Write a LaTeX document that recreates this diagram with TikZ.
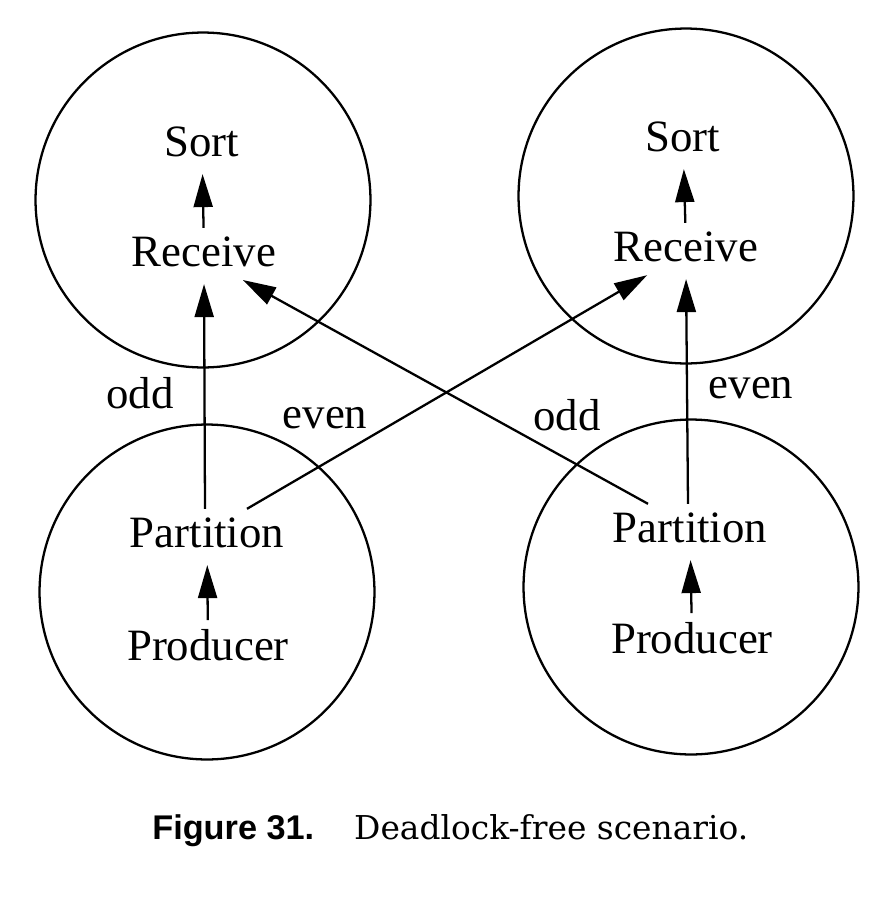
\documentclass[tikz,border=0pt]{standalone}
\usepackage{fontspec}
\setmainfont{Liberation Serif}
\newfontfamily\capsans{Liberation Sans}
\newfontfamily\capserif{DejaVu Serif}
\usetikzlibrary{arrows.meta}
\begin{document}
\begin{tikzpicture}[x=0.02cm, y=-0.02cm,
    gruppo/.style={draw=black, line width=1.3pt, circle, minimum size=6.7cm, inner sep=0pt},
    proc/.style={font=\fontsize{25.5}{30}\selectfont, inner sep=5pt},
    etich/.style={font=\fontsize{25.5}{30}\selectfont, inner sep=0pt},
    freccia/.style={line width=1.3pt, shorten >=4.5pt,
      -{Triangle[length=0.66cm,width=0.38cm]}}]

  \useasboundingbox (0,0) rectangle (890,900);

  % i quattro gruppi
  \node[gruppo] (cTL) at (203,200) {};
  \node[gruppo] (cTR) at (686,196) {};
  \node[gruppo] (cBL) at (207,592) {};
  \node[gruppo] (cBR) at (691,587) {};

  % processi
  \node[proc] (sortL) at (202,142) {Sort};
  \node[proc] (recvL) at (204,252) {Receive};
  \node[proc] (partL) at (207,533) {Partition};
  \node[proc] (prodL) at (208,645) {Producer};

  \node[proc] (sortR) at (683,137) {Sort};
  \node[proc] (recvR) at (686,247) {Receive};
  \node[proc] (partR) at (690,528) {Partition};
  \node[proc] (prodR) at (692,638) {Producer};

  % frecce interne
  \draw[freccia] (recvL) -- (sortL);
  \draw[freccia] (prodL) -- (partL);
  \draw[freccia] (recvR) -- (sortR);
  \draw[freccia] (prodR) -- (partR);

  % frecce tra i gruppi
  \draw[freccia] ([xshift=-0.04cm]partL.north) -- (recvL.south);
  \draw[freccia] ([xshift=0.8cm]partL.north) -- ([xshift=-0.64cm]recvR.south);
  \draw[freccia] ([xshift=-0.84cm]partR.north) -- ([xshift=0.64cm]recvL.south);
  \draw[freccia] ([xshift=-0.04cm]partR.north) -- (recvR.south);

  \node[etich] (oddL)  at (140,393) {odd};
  \node[etich] (evenL) at (325,418) {even};
  \node[etich] (oddR)  at (567,415) {odd};
  \node[etich] (evenR) at (751,388) {even};

  \node[anchor=base west, inner sep=0pt] (didasc) at (152,839)
    {{\capsans\bfseries\fontsize{19.5}{23}\selectfont Figure 31.}\hspace{0.8cm}%
     {\capserif\fontsize{18.7}{22}\selectfont Deadlock-free scenario.}};
\end{tikzpicture}
\end{document}
